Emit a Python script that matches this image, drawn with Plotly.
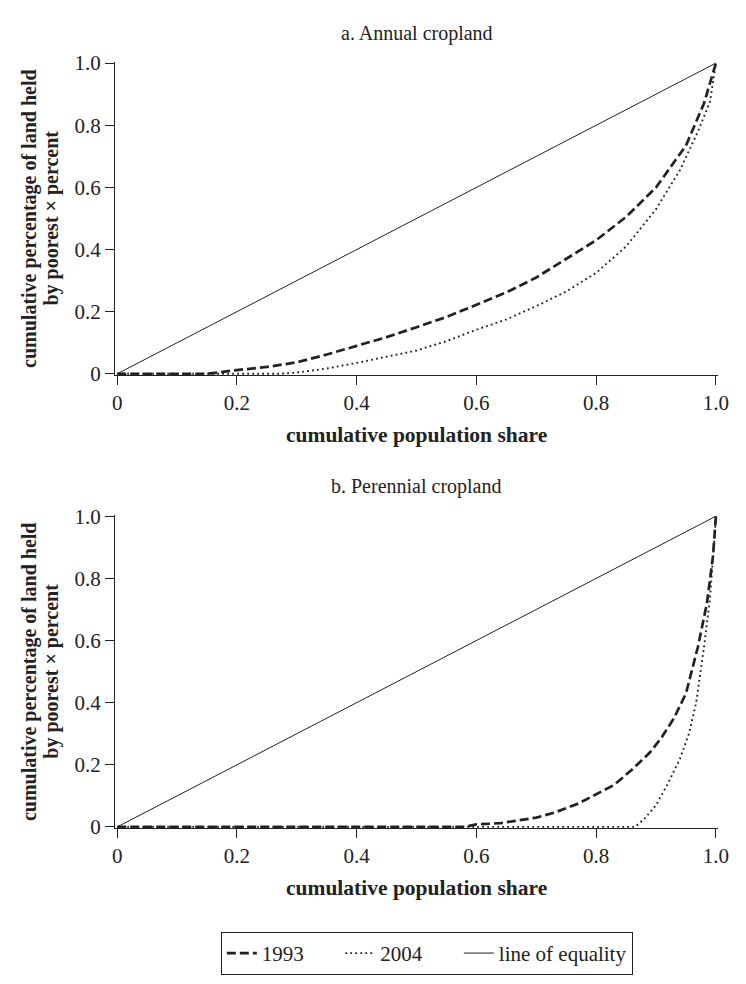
import plotly.graph_objects as go

# ---- data ----
tick_vals = [0, 0.2, 0.4, 0.6, 0.8, 1.0]
tick_text = ["0", "0.2", "0.4", "0.6", "0.8", "1.0"]

equality_x = [0, 1.0]
equality_y = [0, 1.0]

annual_1993_x = [0, 0.15, 0.2, 0.25, 0.3, 0.35, 0.4, 0.45, 0.5, 0.55, 0.6, 0.65, 0.7, 0.75, 0.8, 0.85, 0.9, 0.95, 0.98, 1.0]
annual_1993_y = [0, 0, 0.012, 0.022, 0.037, 0.062, 0.09, 0.118, 0.15, 0.183, 0.222, 0.262, 0.31, 0.37, 0.43, 0.505, 0.6, 0.735, 0.87, 1.0]

annual_2004_x = [0, 0.27, 0.3, 0.35, 0.4, 0.45, 0.5, 0.55, 0.6, 0.65, 0.7, 0.75, 0.8, 0.85, 0.9, 0.94, 0.97, 0.99, 1.0]
annual_2004_y = [0, 0, 0.004, 0.017, 0.035, 0.055, 0.075, 0.105, 0.142, 0.175, 0.218, 0.265, 0.325, 0.41, 0.53, 0.656, 0.78, 0.875, 1.0]

perennial_1993_x = [0, 0.58, 0.6, 0.64, 0.7, 0.73, 0.77, 0.8, 0.83, 0.86, 0.89, 0.91, 0.93, 0.95, 0.97, 0.985, 0.995, 1.0]
perennial_1993_y = [0, 0, 0.008, 0.012, 0.03, 0.046, 0.075, 0.105, 0.135, 0.185, 0.24, 0.29, 0.35, 0.43, 0.58, 0.72, 0.87, 1.0]

perennial_2004_x = [0, 0.865, 0.88, 0.9, 0.92, 0.94, 0.955, 0.967, 0.98, 0.99, 0.996, 1.0]
perennial_2004_y = [0, 0, 0.025, 0.07, 0.14, 0.22, 0.3, 0.40, 0.578, 0.734, 0.89, 1.0]

panel_titles = ["a. Annual cropland", "b. Perennial cropland"]
x_title = "cumulative population share"
y_title_lines = ["cumulative percentage of land held", "by poorest × percent"]
series_names = ["1993", "2004", "line of equality"]

# ---- figure ----
W, H = 746, 984
FONT = "Liberation Serif"
INK = "#222222"
NB = "\u00a0"

fig = go.Figure()

dash_style = dict(color=INK, width=2.7, dash="9px,4px")
dot_style = dict(color=INK, width=1.9, dash="1.8px,3.2px")
solid_style = dict(color=INK, width=1)

panels = [
    ("x", "y", annual_1993_x, annual_1993_y, annual_2004_x, annual_2004_y, True),
    ("x2", "y2", perennial_1993_x, perennial_1993_y, perennial_2004_x, perennial_2004_y, False),
]
legend_labels = [series_names[0] + NB * 6, series_names[1] + NB * 6, series_names[2]]
for xa, ya, x93, y93, x04, y04, show in panels:
    fig.add_trace(go.Scatter(x=x93, y=y93, mode="lines", line=dash_style, name=legend_labels[0],
                             xaxis=xa, yaxis=ya, showlegend=show, legendrank=1))
    fig.add_trace(go.Scatter(x=x04, y=y04, mode="lines", line=dot_style, name=legend_labels[1],
                             xaxis=xa, yaxis=ya, showlegend=show, legendrank=2))
    fig.add_trace(go.Scatter(x=equality_x, y=equality_y, mode="lines", line=solid_style, name=legend_labels[2],
                             xaxis=xa, yaxis=ya, showlegend=show, legendrank=3))

def px_x(p):
    return p / W

def px_y(p):
    return 1 - p / H

x_dom = [px_x(114), px_x(729)]
a_dom = [px_y(373), px_y(53)]
b_dom = [px_y(836), px_y(516)]

axis_common = dict(
    showline=True, linecolor=INK, linewidth=1, ticks="outside", ticklen=9, tickwidth=1,
    tickcolor=INK, showgrid=False, zeroline=False, tickvals=tick_vals, ticktext=tick_text,
    tickfont=dict(family=FONT, size=21, color=INK),
)
pad = 0.004
fig.update_layout(
    xaxis=dict(domain=x_dom, range=[-pad, 1 + pad], anchor="y", **axis_common),
    yaxis=dict(domain=a_dom, range=[-pad, 1 + pad], anchor="x", **axis_common),
    xaxis2=dict(domain=x_dom, range=[-pad, 1 + pad], anchor="y2", **axis_common),
    yaxis2=dict(domain=b_dom, range=[-pad, 1 + pad], anchor="x2", **axis_common),
)

ann = []
cx = (114 + 729) / 2 / W
for title, ty in zip(panel_titles, [24, 487]):
    ann.append(dict(text=title, x=cx, y=px_y(ty), xref="paper", yref="paper",
                    showarrow=False, xanchor="center", yanchor="middle",
                    font=dict(family=FONT, size=20, color=INK)))
for ty in [434, 897]:
    ann.append(dict(text="<b>" + x_title + "</b>", x=cx, y=px_y(ty), xref="paper", yref="paper",
                    showarrow=False, xanchor="center", yanchor="middle",
                    font=dict(family=FONT, size=21.5, color=INK)))
for ty in [213, 676]:
    for line, lx in zip(y_title_lines, [27, 49]):
        ann.append(dict(text="<b>" + line + "</b>", x=px_x(lx), y=px_y(ty), xref="paper", yref="paper",
                        showarrow=False, xanchor="center", yanchor="middle", textangle=-90,
                        font=dict(family=FONT, size=20, color=INK)))

fig.update_layout(
    width=W, height=H,
    margin=dict(l=0, r=0, t=0, b=0),
    paper_bgcolor="white", plot_bgcolor="white",
    annotations=ann,
    showlegend=True,
    legend=dict(
        orientation="h", x=0.579, y=px_y(964), xanchor="center", yanchor="middle",
        bordercolor=INK, borderwidth=1, bgcolor="white",
        font=dict(family=FONT, size=21, color=INK),
        itemwidth=30, tracegroupgap=0,
    ),
)

fig.write_html(
    "out.html",
    config={"displayModeBar": False},
    post_script="document.body.style.margin='0';document.body.style.overflow='hidden';",
)
